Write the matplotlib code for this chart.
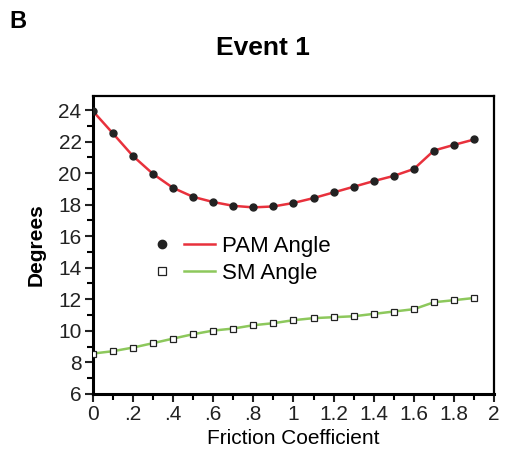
import matplotlib
matplotlib.use("Agg")
import matplotlib.pyplot as plt
from matplotlib.lines import Line2D
from matplotlib.legend_handler import HandlerTuple
from matplotlib.ticker import MultipleLocator, FixedLocator

# friction coefficient steps
friction = [0.0, 0.1, 0.2, 0.3, 0.4, 0.5, 0.6, 0.7, 0.8, 0.9,
            1.0, 1.1, 1.2, 1.3, 1.4, 1.5, 1.6, 1.7, 1.8, 1.9]
pam_angle = [23.96, 22.54, 21.10, 19.96, 19.07, 18.50, 18.17, 17.93, 17.83, 17.89,
             18.11, 18.42, 18.78, 19.14, 19.50, 19.83, 20.27, 21.44, 21.80, 22.14]
sm_angle = [8.55, 8.70, 8.93, 9.21, 9.50, 9.78, 10.01, 10.14, 10.35, 10.48,
            10.67, 10.80, 10.86, 10.92, 11.07, 11.22, 11.37, 11.81, 11.94, 12.08]

x_ticks = [0, 0.2, 0.4, 0.6, 0.8, 1.0, 1.2, 1.4, 1.6, 1.8, 2.0]
x_ticklabels = ["0", ".2", ".4", ".6", ".8", "1", "1.2", "1.4", "1.6", "1.8", "2"]
y_ticks = [6, 8, 10, 12, 14, 16, 18, 20, 22, 24]

RED = "#e8313c"
GREEN = "#8dc85c"
plt.rcParams["font.family"] = ["Liberation Sans", "DejaVu Sans"]

fig = plt.figure(figsize=(5.09, 4.66), dpi=100)
ax = fig.add_axes([0.182, 0.155, 0.789, 0.639])

ax.plot(friction, pam_angle, color=RED, lw=1.8, zorder=2)
ax.plot(friction, pam_angle, ls="none", marker="o", ms=5, color="#222222", zorder=3)
ax.plot(friction, sm_angle, color=GREEN, lw=1.8, zorder=2)
ax.plot(friction, sm_angle, ls="none", marker="s", ms=4, mfc="white", mec="#222222",
        mew=0.9, zorder=3)

ax.set_xlim(0, 2)
ax.set_ylim(6, 24.9)
ax.xaxis.set_major_locator(FixedLocator(x_ticks))
ax.set_xticklabels(x_ticklabels)
ax.xaxis.set_minor_locator(MultipleLocator(0.1))
ax.yaxis.set_major_locator(FixedLocator(y_ticks))
ax.yaxis.set_minor_locator(MultipleLocator(1))
ax.tick_params(which="major", direction="out", length=6, width=1.5, labelsize=15,
               colors="#222222", pad=2)
ax.tick_params(which="minor", direction="out", length=4, width=1.5)

for side in ["left", "bottom"]:
    ax.spines[side].set_linewidth(2.2)
for side in ["top", "right"]:
    ax.spines[side].set_linewidth(1.6)

ax.set_xlabel("Friction Coefficient", fontsize=15, labelpad=4)
ax.set_ylabel("Degrees", fontsize=15, fontweight="bold", labelpad=9)

handles = [
    (Line2D([], [], ls="none", marker="o", ms=6, color="#222222"),
     Line2D([], [], color=RED, lw=1.8)),
    (Line2D([], [], ls="none", marker="s", ms=6, mfc="white", mec="#222222", mew=0.9),
     Line2D([], [], color=GREEN, lw=1.8)),
]
ax.legend(handles, ["PAM Angle", "SM Angle"],
          handler_map={tuple: HandlerTuple(ndivide=None, pad=0.3)},
          loc="upper left", bbox_to_anchor=(0.083, 0.597), frameon=False,
          fontsize=16, handlelength=3.1, handletextpad=0.3, labelspacing=0.25)

fig.text(0.517, 0.898, "Event 1", ha="center", va="center",
         fontsize=19, fontweight="bold")
fig.text(0.018, 0.953, "B", ha="left", va="center", fontsize=17, fontweight="bold")

fig.savefig("out.png", dpi=100)
